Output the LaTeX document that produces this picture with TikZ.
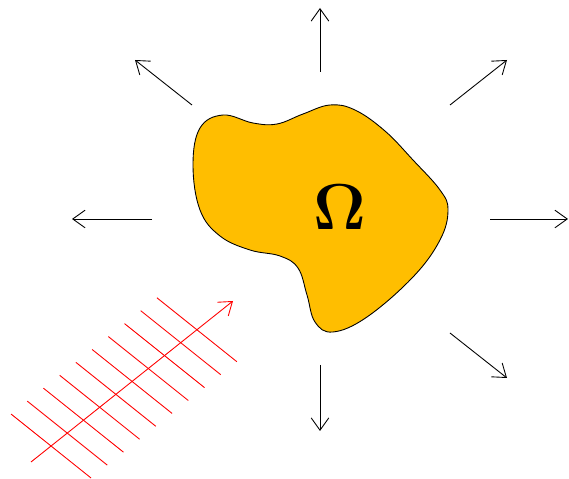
\RequirePackage{fix-cm}
\documentclass[tikz,border=0pt]{standalone}
\usetikzlibrary{arrows.meta}
\tikzset{
  out arrow/.style={-{Straight Barb[length=7pt,width=10pt]}, black, line width=0.5pt},
  wave line/.style={red, line width=0.5pt},
  wave arrow/.style={-{Straight Barb[length=7pt,width=10pt]}, red, line width=0.5pt},
}
\definecolor{blobcol}{RGB}{255,190,0}

\begin{document}
\begin{tikzpicture}[x=0.02cm, y=-0.02cm]
        % unit = 1 px of the 569 x 479 frame, y runs downwards
        \useasboundingbox (0,0) rectangle (569,479);

        % ---- the body Omega ----
        \draw[fill=blobcol, line width=0.5pt] plot[smooth cycle, tension=0.65] coordinates {
          (200,128) (223,115) (253,123) (277,124) (303,114) (330,105) (355,110)
          (385,131) (413,160) (440,190) (448,210) (440,240) (413,277) (367,317)
          (333,332) (315,322) (307,295) (298,268) (280,256) (250,250) (220,236)
          (200,210) (193,165)
        };
        \node[font=\fontsize{37}{44}\selectfont] (omega) at (340,207) {$\mathbf{\Omega}$};

        % ---- outgoing arrows (tail, head) ----
        \coordinate (n1) at (320,72);  \coordinate (n2) at (320,8);
        \coordinate (s1) at (320,365); \coordinate (s2) at (320,431);
        \coordinate (w1) at (152,219); \coordinate (w2) at (72,219);
        \coordinate (e1) at (490,219); \coordinate (e2) at (568,219);
        \coordinate (nw1) at (192,105); \coordinate (nw2) at (135,60);
        \coordinate (ne1) at (450,105); \coordinate (ne2) at (507,60);
        \coordinate (se1) at (450,333); \coordinate (se2) at (507,378);
        \foreach \d in {n,s,w,e,nw,ne,se} {
          \draw[out arrow] (\d1) -- (\d2);
        }

        % ---- incoming plane wave ----
        \coordinate (ws) at (31,462);
        \coordinate (we) at (233,301);
        \draw[wave arrow] (ws) -- (we);
        % wave fronts: 10 lines, 20.7 px apart along the arrow
        \foreach \i in {0,...,9} {
          \pgfmathsetmacro{\cx}{31 + (25.6+\i*20.7)*0.783}
          \pgfmathsetmacro{\cy}{462 - (25.6+\i*20.7)*0.624}
          \draw[wave line] (\cx-51*0.784, \cy-51*0.627) -- (\cx+51*0.784, \cy+51*0.627);
        }
      \end{tikzpicture}
\end{document}
